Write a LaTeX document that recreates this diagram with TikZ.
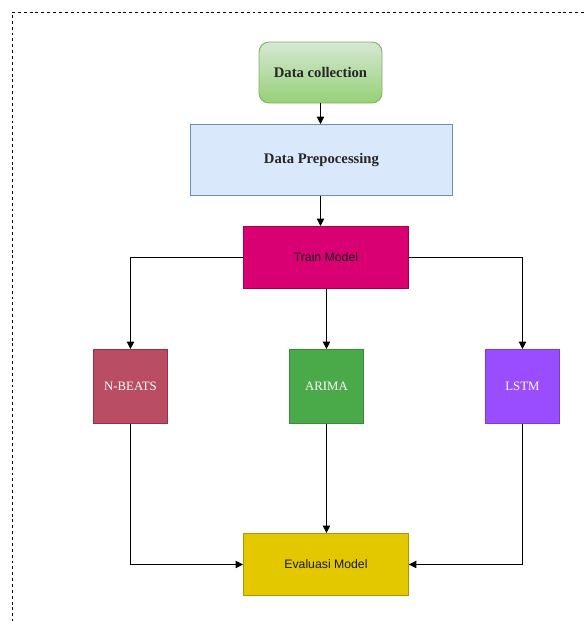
\documentclass[tikz,border=0pt]{standalone}
\usepackage{fontspec}
\setmainfont{Liberation Serif}
\setsansfont{Liberation Sans}
\usetikzlibrary{arrows.meta}
\definecolor{dcfillT}{HTML}{D5E8D4}
\definecolor{dcfillB}{HTML}{97D077}
\definecolor{dcline}{HTML}{82B366}
\definecolor{dpfill}{HTML}{DAE8FC}
\definecolor{dpline}{HTML}{6C8EBF}
\definecolor{tmfill}{HTML}{D80073}
\definecolor{tmline}{HTML}{A50040}
\definecolor{nbfill}{HTML}{B84D64}
\definecolor{nbline}{HTML}{9A3048}
\definecolor{arfill}{HTML}{4AAA4A}
\definecolor{arline}{HTML}{3A8A3A}
\definecolor{lsfill}{HTML}{994DFF}
\definecolor{lsline}{HTML}{7A3CD8}
\definecolor{emfill}{HTML}{E3C800}
\definecolor{emline}{HTML}{B09500}
\tikzset{
  box/.style={draw, line width=0.7pt, inner sep=0pt, anchor=north west},
  serifbold/.style={font=\rmfamily\bfseries\fontsize{11}{13}\selectfont, text=black!85},
  seriflight/.style={font=\rmfamily\fontsize{9.6}{11}\selectfont, text=white},
  sanslabel/.style={font=\sffamily\fontsize{9.2}{11}\selectfont, text=black!90},
  conn/.style={draw=black, line width=0.6pt, -{Triangle[length=5.5pt,width=5.5pt]}},
}
\begin{document}
\begin{tikzpicture}[x=0.75pt,y=-0.75pt]
\useasboundingbox (0,0) rectangle (584,621);
\draw[dash pattern=on 2.2pt off 2.2pt, line width=0.6pt] (584,12) -- (12,12) -- (12,621);

% Data collection
\shade[top color=dcfillT, bottom color=dcfillB, rounded corners=7.5pt] (259,42) rectangle (382,103);
\draw[dcline, line width=0.7pt, rounded corners=7.5pt] (259,42) rectangle (382,103);
\node[serifbold] (dc) at (320.5,72.5) {Data collection};
\coordinate (dcb) at (320.5,103);

% Data Prepocessing
\node[box, fill=dpfill, draw=dpline, minimum width=196.5pt, minimum height=53.25pt] (dp) at (190,124) {};
\node[serifbold] at (dp.center) {Data Prepocessing};

% Train Model
\node[box, fill=tmfill, draw=tmline, minimum width=123.75pt, minimum height=46.5pt] (tm) at (243,226) {};
\node[sanslabel] at (tm.center) {Train Model};

% Models
\node[box, fill=nbfill, draw=nbline, minimum width=55.5pt, minimum height=55.5pt] (nb) at (93,349) {};
\node[seriflight] at (nb.center) {N-BEATS};
\node[box, fill=arfill, draw=arline, minimum width=55.5pt, minimum height=55.5pt] (ar) at (289,349) {};
\node[seriflight] at (ar.center) {ARIMA};
\node[box, fill=lsfill, draw=lsline, minimum width=55.5pt, minimum height=55.5pt] (ls) at (485,349) {};
\node[seriflight] at (ls.center) {LSTM};

% Evaluasi Model
\node[box, fill=emfill, draw=emline, minimum width=123.75pt, minimum height=46.5pt] (em) at (243,533) {};
\node[sanslabel] at (em.center) {Evaluasi Model};

% connectors
\draw[conn] (dcb) -- (dp.north -| dcb);
\draw[conn] (dp.south -| dcb) -- (tm.north -| dcb);
\draw[conn] (tm.west) -| (nb.north);
\draw[conn] (tm.south -| ar.north) -- (ar.north);
\draw[conn] (tm.east) -| (ls.north);
\draw[conn] (nb.south) |- (em.west);
\draw[conn] (ar.south) -- (em.north -| ar.south);
\draw[conn] (ls.south) |- (em.east);
\end{tikzpicture}
\end{document}
